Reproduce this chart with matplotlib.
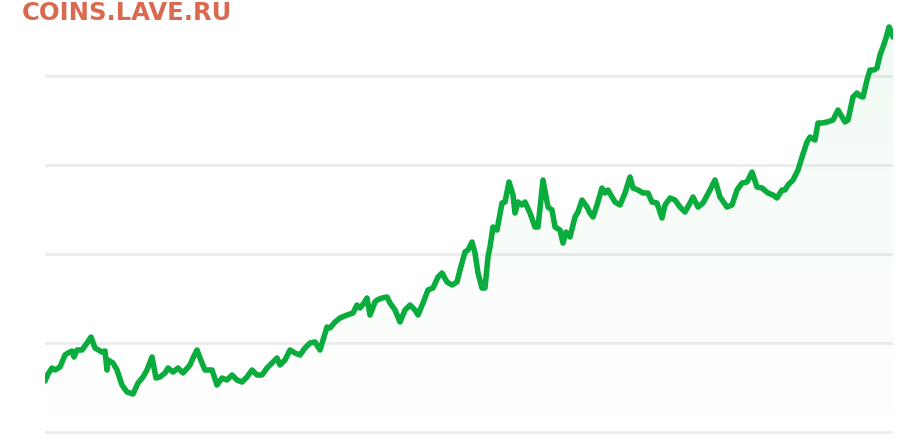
import matplotlib
matplotlib.use("Agg")
import matplotlib.pyplot as plt
import numpy as np
from matplotlib.colors import LinearSegmentedColormap

# time index (position along the chart) and values (grid step = 89 units)
t = [45, 48, 52, 55, 60, 65, 68, 72, 74, 77, 82, 87, 91, 95, 102, 105, 107, 108, 113, 117,
     122, 127, 133, 138, 143, 147, 152, 156, 160, 165, 168, 173, 178, 183, 190, 193, 197, 202,
     205, 212, 217, 222, 227, 232, 237, 242, 247, 252, 257, 262, 267, 272, 277, 280, 285, 290,
     295, 300, 305, 310, 315, 320, 327, 330, 335, 340, 347, 353, 357, 360, 364, 367, 370, 375,
     377, 382, 387, 390, 395, 400, 405, 410, 415, 418, 423, 428, 433, 438, 442, 447, 452, 457,
     460, 465, 468, 472, 475, 478, 482, 485, 488, 490, 493, 497, 502, 505, 509, 513, 515, 518,
     522, 525, 530, 535, 538, 543, 548, 552, 555, 560, 563, 566, 570, 575, 578, 582, 587, 590,
     593, 597, 602, 605, 608, 615, 620, 625, 630, 633, 638, 643, 648, 652, 657, 662, 665, 670,
     675, 680, 685, 690, 693, 698, 703, 710, 715, 720, 727, 732, 737, 742, 747, 752, 757, 762,
     768, 773, 777, 782, 785, 788, 793, 798, 802, 807, 810, 815, 818, 822, 827, 830, 833, 838,
     845, 848, 853, 857, 860, 863, 867, 870, 874, 877, 880, 883, 886, 889, 891, 893]
values = [51, 58, 64, 62, 65, 77, 79, 81, 75, 82, 82, 89, 95, 84, 80, 81, 62, 72, 69, 62,
          47, 40, 38, 49, 55, 62, 75, 54, 55, 59, 64, 60, 64, 59, 67, 74, 82, 69,
          62, 62, 47, 54, 52, 57, 52, 50, 55, 62, 57, 57, 64, 69, 74, 67, 72, 82,
          79, 77, 84, 89, 90, 82, 105, 104, 110, 114, 117, 119, 127, 124, 129, 134, 117, 130,
          132, 134, 135, 129, 122, 110, 122, 127, 122, 117, 129, 142, 144, 155, 159, 150, 147, 150,
          162, 180, 182, 190, 179, 159, 144, 144, 175, 185, 205, 202, 229, 230, 250, 237, 219, 230,
          227, 230, 219, 205, 205, 252, 225, 222, 205, 202, 189, 200, 195, 215, 220, 232, 225, 219,
          215, 227, 244, 239, 242, 230, 227, 239, 255, 244, 242, 239, 239, 230, 229, 214, 227, 234,
          232, 225, 220, 229, 235, 225, 229, 242, 252, 235, 225, 227, 242, 249, 250, 260, 245, 244,
          239, 237, 234, 242, 242, 247, 252, 262, 275, 290, 295, 292, 309, 309, 310, 311, 312, 322,
          310, 312, 335, 339, 336, 335, 352, 362, 362, 364, 377, 385, 394, 405, 401, 395]
grid_levels = [0, 89, 178, 267, 356]
title = "COINS.LAVE.RU"

W, H = 917, 443
fig = plt.figure(figsize=(W / 100, H / 100), dpi=100)
fig.patch.set_facecolor("white")
ax = fig.add_axes([45 / W, 0, (893 - 45) / W, 1])
ax.set_xlim(t[0], t[-1])
ax.set_ylim(-11, 432)
ax.axis("off")

for g in grid_levels:
    ax.axhline(g, color="#ededed", lw=2.2, zorder=1)

# gradient fill under the line
poly = ax.fill_between(t, values, -11, color="none", lw=0)
cmap = LinearSegmentedColormap.from_list(
    "g", [(0.04, 0.67, 0.24, 0.0), (0.04, 0.67, 0.24, 0.06)])
grad = np.linspace(0, 1, 256).reshape(-1, 1)
img = ax.imshow(grad, cmap=cmap, aspect="auto", origin="lower",
                extent=[t[0], t[-1], -11, 405], zorder=2)
img.set_clip_path(poly.get_paths()[0], transform=ax.transData)

ax.plot(t, values, color="#0aac3e", lw=4.0, solid_joinstyle="round",
        solid_capstyle="round", zorder=3)

fig.text(22 / W, 1 - 13 / H, title, color="#d9694f", fontsize=17.5,
         fontweight="bold", family="DejaVu Sans", va="center", ha="left")

fig.savefig("out.png", dpi=100, facecolor="white")
